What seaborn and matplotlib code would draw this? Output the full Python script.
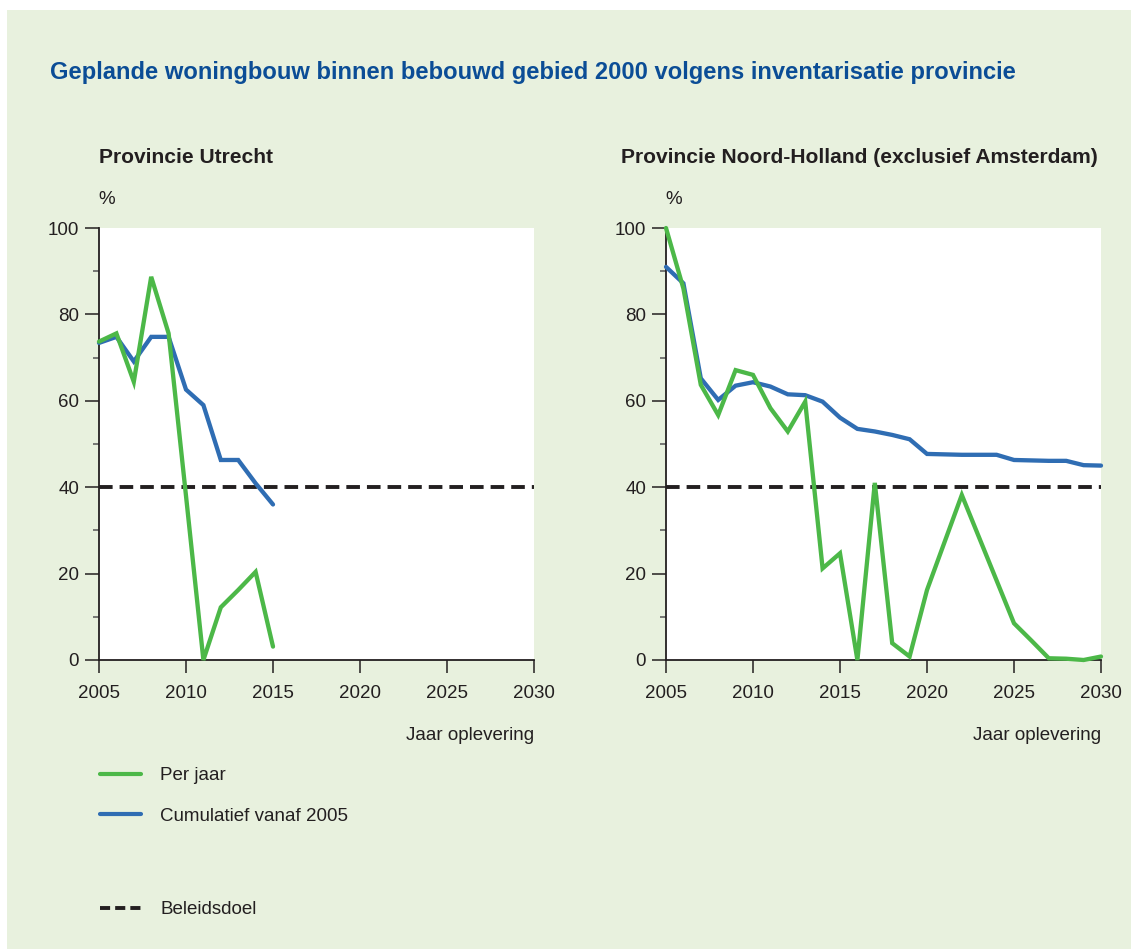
import matplotlib
matplotlib.use("Agg")
import matplotlib.pyplot as plt
import seaborn as sns
import pandas as pd
from matplotlib.patches import Rectangle
from matplotlib.lines import Line2D
from matplotlib.ticker import MultipleLocator

# data (% of planned housing within built-up area)
jaren_utrecht = list(range(2005, 2016))
utrecht_per_jaar = [73.7, 75.6, 64.4, 88.7, 75.6, 38.0, 0.0, 12.2, 16.2, 20.4, 3.1]
utrecht_cumulatief = [73.4, 74.8, 69.1, 74.8, 74.8, 62.6, 59.0, 46.3, 46.3, 40.9, 36.0]

jaren_nh = list(range(2005, 2031))
nh_per_jaar = [100.0, 86.0, 63.7, 56.7, 67.1, 66.0, 58.3, 52.9, 59.8, 21.2,
               24.7, 0.0, 41.0, 3.9, 0.8, 16.2, 27.2, 38.2, 28.3, 18.4,
               8.5, 4.5, 0.4, 0.3, 0.0, 0.8]
nh_cumulatief = [91.0, 87.2, 65.2, 60.2, 63.5, 64.3, 63.3, 61.5, 61.3, 59.8,
                 56.1, 53.5, 52.9, 52.1, 51.1, 47.7, 47.6, 47.5, 47.5, 47.5,
                 46.3, 46.2, 46.1, 46.1, 45.1, 45.0]

beleidsdoel = 40
reeksen = ["Per jaar", "Cumulatief vanaf 2005"]
xticks = [2005, 2010, 2015, 2020, 2025, 2030]

GREEN = "#4cb848"
BLUE = "#2f6db3"
DARK = "#231f20"
BG = "#e8f1de"
TITLE_BLUE = "#0b4d96"

sns.set_style("ticks")
plt.rcParams["font.family"] = ["Liberation Sans", "DejaVu Sans"]
plt.rcParams["text.color"] = DARK


def long_df(jaren, per_jaar, cum):
    return pd.DataFrame({
        "jaar": jaren * 2,
        "waarde": per_jaar + cum,
        "reeks": [reeksen[0]] * len(jaren) + [reeksen[1]] * len(jaren),
    })


W, H = 1131, 949
fig = plt.figure(figsize=(W / 100, H / 100), dpi=100)
fig.patch.set_facecolor("white")
fig.add_artist(Rectangle((7 / W, 0), 1 - 7 / W, 1 - 10 / H,
                         transform=fig.transFigure, facecolor=BG,
                         edgecolor="none", zorder=-10))

ax_l = fig.add_axes([99 / W, 1 - 660 / H, 435 / W, 432 / H])
ax_r = fig.add_axes([666 / W, 1 - 660 / H, 435 / W, 432 / H])

panels = [
    (ax_l, long_df(jaren_utrecht, utrecht_per_jaar, utrecht_cumulatief),
     "Provincie Utrecht", 0.0),
    (ax_r, long_df(jaren_nh, nh_per_jaar, nh_cumulatief),
     "Provincie Noord-Holland (exclusief Amsterdam)", -45 / 435),
]

for ax, df, titel, tx in panels:
    ax.set_facecolor("white")
    ax.axhline(beleidsdoel, color=DARK, lw=2.8, ls=(0, (3.5, 1.8)), zorder=1)
    sns.lineplot(data=df, x="jaar", y="waarde", hue="reeks",
                 palette={reeksen[0]: GREEN, reeksen[1]: BLUE},
                 hue_order=[reeksen[1], reeksen[0]],
                 lw=3.1, ax=ax, legend=False, zorder=3)
    for ln in ax.lines:
        ln.set_clip_on(False)
        ln.set_solid_joinstyle("miter")
    ax.set_xlim(2005, 2030)
    ax.set_ylim(0, 100)
    ax.set_xticks(xticks)
    ax.yaxis.set_major_locator(MultipleLocator(20))
    ax.yaxis.set_minor_locator(MultipleLocator(10))
    ax.tick_params(axis="both", which="both", direction="out",
                   width=1.1, color=DARK, labelsize=13.5, labelcolor=DARK)
    ax.tick_params(axis="x", which="major", length=9.5, pad=8.5)
    ax.tick_params(axis="y", which="major", length=10, pad=4.3)
    ax.tick_params(axis="y", which="minor", length=4.5, color="#555555")
    ax.set_xlabel("")
    ax.set_ylabel("")
    for s in ["top", "right"]:
        ax.spines[s].set_visible(False)
    for s in ["left", "bottom"]:
        ax.spines[s].set_color(DARK)
        ax.spines[s].set_linewidth(1.3)
    ax.text(tx, 1.164, titel, transform=ax.transAxes, fontsize=15.15,
            fontweight="bold", ha="left", va="center")
    ax.text(0.018, 1.065, "%", transform=ax.transAxes, fontsize=13.5,
            ha="center", va="center")
    ax.text(1.0, -0.174, "Jaar oplevering", transform=ax.transAxes,
            fontsize=13.5, ha="right", va="center")

fig.text(50 / W, 1 - 73 / H,
         "Geplande woningbouw binnen bebouwd gebied 2000 volgens inventarisatie provincie",
         fontsize=17.12, fontweight="bold", color=TITLE_BLUE, ha="left", va="center")

fig.legend([Line2D([], [], color=GREEN, lw=3),
            Line2D([], [], color=BLUE, lw=3)],
           reeksen, loc="upper left", bbox_to_anchor=(100 / W, 1 - 767 / H),
           frameon=False, fontsize=13.5, handlelength=2.2,
           handletextpad=1.0, labelspacing=1.26, borderaxespad=0,
           borderpad=0)
fig.legend([Line2D([], [], color=DARK, lw=2.8, ls=(0, (2.6, 1.3)))],
           ["Beleidsdoel"], loc="upper left", bbox_to_anchor=(100 / W, 1 - 901 / H),
           frameon=False, fontsize=13.5, handlelength=2.2, handletextpad=1.0,
           borderaxespad=0, borderpad=0)

fig.savefig("out.png", dpi=100, facecolor=fig.get_facecolor())
